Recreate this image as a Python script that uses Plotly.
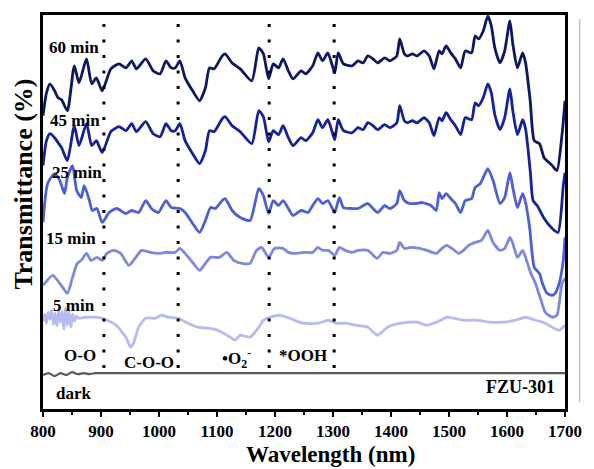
import plotly.graph_objects as go

# In-situ spectra of FZU-301, stacked with offsets (arbitrary transmittance units)
wl_60 = [800, 806, 812, 820, 826, 832, 842, 854, 862, 875, 884, 892, 902, 917, 931, 943, 953, 961,
         977, 990, 1002, 1012, 1021, 1028, 1036, 1045, 1058, 1070, 1080, 1087, 1095, 1109, 1114,
         1126, 1140, 1160, 1172, 1180, 1189, 1197, 1206, 1214, 1223, 1231, 1245, 1253, 1265, 1274,
         1282, 1291, 1299, 1303, 1309, 1318, 1333, 1343, 1352, 1360, 1369, 1377, 1389, 1398, 1410,
         1415, 1423, 1428, 1437, 1445, 1457, 1466, 1474, 1483, 1488, 1495, 1503, 1511, 1520, 1528,
         1539, 1545, 1551, 1559, 1567, 1573, 1579, 1588, 1596, 1605, 1610, 1618, 1627, 1632, 1640,
         1647, 1656, 1664, 1678, 1686, 1695, 1700]
t_60 = [294, 317, 326, 319, 312, 310, 299, 344, 327, 351, 326, 332, 319, 341, 346, 342, 349, 341,
        351, 339, 336, 349, 342, 342, 349, 332, 319, 309, 322, 342, 341, 354, 356,
        347, 341, 329, 362, 356, 331, 346, 342, 351, 339, 331, 339, 336, 344, 357,
        349, 357, 344, 337, 357, 346, 344, 349, 347, 354, 351, 347, 352, 349, 354,
        371, 356, 354, 356, 354, 359, 354, 341, 359, 356, 364, 357, 351, 342, 359,
        357, 374, 371, 379, 394, 384, 362, 347, 359, 389, 366, 342, 357, 347, 309,
        269, 266, 252, 244, 239, 276, 309]

wl_45 = [800, 806, 812, 820, 826, 832, 842, 854, 862, 875, 884, 892, 902, 917, 931, 943, 953, 961,
         977, 990, 1002, 1012, 1021, 1028, 1036, 1045, 1058, 1070, 1080, 1087, 1095, 1109, 1114,
         1126, 1140, 1160, 1172, 1180, 1189, 1197, 1206, 1214, 1223, 1231, 1245, 1253, 1265, 1274,
         1282, 1291, 1299, 1303, 1309, 1318, 1333, 1343, 1352, 1360, 1369, 1377, 1389, 1398, 1410,
         1415, 1423, 1428, 1437, 1445, 1457, 1466, 1474, 1483, 1488, 1495, 1503, 1511, 1520, 1528,
         1539, 1545, 1551, 1559, 1567, 1573, 1579, 1588, 1596, 1605, 1610, 1618, 1627, 1632, 1640,
         1645, 1652, 1664, 1678, 1688, 1697, 1700]
t_45 = [244, 269, 276, 272, 267, 262, 249, 284, 264, 286, 264, 269, 257, 278, 283, 279, 286, 278,
        288, 276, 273, 286, 279, 279, 286, 269, 256, 246, 259, 279, 278, 291, 293,
        284, 278, 266, 299, 293, 268, 279, 275, 284, 272, 264, 272, 269, 277, 290,
        282, 290, 277, 270, 290, 279, 277, 282, 280, 287, 284, 280, 285, 282, 287,
        304, 289, 287, 289, 287, 292, 287, 274, 292, 289, 297, 290, 284, 275, 292,
        290, 307, 304, 312, 326, 317, 295, 280, 292, 321, 299, 275, 290, 281, 239,
        209, 204, 191, 181, 177, 224, 237]

wl_25 = [800, 808, 820, 829, 837, 842, 851, 858, 866, 871, 880, 885, 893, 902, 914, 927, 943, 953,
         965, 977, 987, 999, 1012, 1021, 1036, 1045, 1058, 1070, 1080, 1089, 1097, 1109, 1114, 1126,
         1140, 1157, 1172, 1180, 1189, 1197, 1206, 1214, 1223, 1231, 1245, 1257, 1265, 1274, 1282,
         1291, 1299, 1303, 1311, 1318, 1333, 1343, 1360, 1369, 1377, 1389, 1398, 1410, 1415, 1423,
         1432, 1443, 1454, 1469, 1478, 1483, 1488, 1495, 1503, 1511, 1520, 1528, 1539, 1545, 1554,
         1559, 1567, 1576, 1588, 1596, 1605, 1610, 1618, 1627, 1632, 1639, 1647, 1656, 1661, 1669,
         1678, 1683, 1690, 1697, 1700]
t_25 = [187, 226, 236, 229, 216, 232, 244, 219, 212, 224, 209, 199, 201, 187, 197, 201, 196, 199,
        197, 209, 201, 197, 209, 202, 201, 197, 186, 177, 189, 202, 201, 209, 211, 199,
        192, 189, 221, 214, 196, 209, 204, 209, 201, 194, 199, 197, 204, 211, 206,
        209, 201, 197, 212, 202, 201, 201, 206, 201, 197, 204, 201, 206, 219, 209,
        206, 206, 207, 204, 199, 217, 211, 216, 211, 206, 197, 209, 211, 222, 226,
        232, 241, 229, 206, 212, 237, 222, 202, 216, 207, 182, 142, 136, 126, 116,
        114, 116, 126, 149, 172]

wl_15 = [800, 817, 825, 834, 842, 851, 859, 866, 875, 883, 893, 902, 910, 922, 934, 948, 960, 970,
         985, 999, 1012, 1028, 1036, 1045, 1058, 1070, 1080, 1089, 1104, 1117, 1129, 1143, 1157,
         1168, 1177, 1189, 1199, 1214, 1223, 1233, 1250, 1265, 1274, 1282, 1292, 1303, 1311, 1321,
         1333, 1343, 1360, 1376, 1386, 1398, 1410, 1415, 1423, 1435, 1449, 1462, 1478, 1488, 1496,
         1505, 1517, 1525, 1534, 1545, 1556, 1567, 1576, 1588, 1596, 1605, 1610, 1618, 1627, 1632,
         1641, 1649, 1657, 1666, 1678, 1686, 1695, 1700]
t_15 = [124, 134, 129, 122, 116, 132, 146, 149, 156, 149, 152, 149, 156, 159, 156, 144, 152, 159,
        157, 156, 157, 157, 161, 156, 147, 139, 146, 152, 152, 157, 149, 146, 146,
        159, 162, 152, 161, 161, 157, 156, 157, 157, 162, 159, 159, 154, 162, 159,
        157, 159, 159, 151, 157, 156, 159, 167, 161, 162, 161, 159, 156, 161, 164,
        161, 156, 159, 164, 167, 169, 179, 167, 159, 161, 172, 166, 152, 159, 152,
        136, 126, 112, 97, 92, 94, 126, 131]

wl_5 = [800, 803, 806, 809, 812, 815, 818, 821, 824, 827, 830, 833, 836, 839, 842, 845, 848, 851,
        854, 857, 862, 875, 902, 926, 943, 951, 956, 965, 977, 994, 1004, 1016, 1033, 1050, 1067,
        1084, 1101, 1123, 1131, 1140, 1157, 1172, 1180, 1191, 1208, 1225, 1248, 1275, 1292, 1304,
        1321, 1338, 1360, 1377, 1394, 1418, 1445, 1462, 1486, 1496, 1508, 1525, 1547, 1571, 1593,
        1615, 1632, 1649, 1666, 1681, 1690, 1700]
t_5 = [88, 95, 86, 97, 90, 99, 85, 96, 83, 100, 87, 98, 80, 101, 84, 97, 82, 95,
       88, 93, 91, 92, 91, 84, 72, 62, 66, 82, 91, 91, 94, 92, 91, 86, 82,
       81, 79, 72, 69, 74, 72, 82, 89, 92, 94, 91, 86, 86, 89, 86,
       86, 84, 82, 74, 82, 86, 87, 84, 89, 92, 91, 89, 89, 87, 87,
       89, 92, 89, 86, 81, 79, 84]

wl_dark = [800, 810, 820, 830, 840, 850, 860, 870, 880, 890, 900, 1000, 1100, 1200, 1300, 1400,
           1500, 1600, 1700]
t_dark = [34, 36, 33, 36, 34, 37, 35, 36, 35, 36, 36, 36, 36, 36, 36, 36, 36, 36, 36]

# Assigned band positions (nm) and their labels
band_pos = [905, 1033, 1190, 1302]
band_names = ["O-O", "C-O-O", "\u2022O<sub>2</sub><sup>-</sup>", "*OOH"]
band_label_x = [863, 982, 1134, 1248]
band_label_y = [54, 47, 51, 54]

time_labels = ["60 min", "45 min", "25 min", "15 min", "5 min"]
time_label_x = [853, 855, 859, 848, 853]
time_label_y = [362, 289, 237, 171, 104]

x_ticks = [800, 900, 1000, 1100, 1200, 1300, 1400, 1500, 1600, 1700]

SERIF = "Liberation Serif"

series = [
    (wl_dark, t_dark, "#5a5a5a", 2.2, "dark"),
    (wl_5, t_5, "#b6bcef", 2.8, "5 min"),
    (wl_15, t_15, "#7d88e0", 2.8, "15 min"),
    (wl_25, t_25, "#4c5ed8", 2.8, "25 min"),
    (wl_45, t_45, "#14219a", 2.8, "45 min"),
    (wl_60, t_60, "#0e1765", 2.8, "60 min"),
]

fig = go.Figure()
for xs, ys, color, w, name in series:
    fig.add_trace(go.Scatter(x=xs, y=ys, mode="lines", name=name,
                             line=dict(color=color, width=w, shape="spline", smoothing=0.6)))

# dotted guides at band positions
for xb in band_pos:
    fig.add_trace(go.Scatter(x=[xb, xb], y=[41, 391], mode="lines", showlegend=False,
                             line=dict(color="black", width=3, dash="3px,12.5px")))

annotations = []
for txt, xa, ya in zip(time_labels, time_label_x, time_label_y):
    annotations.append(dict(x=xa, y=ya, text="<b>%s</b>" % txt, showarrow=False,
                            font=dict(family=SERIF, size=17, color="black")))
for txt, xa, ya in zip(band_names, band_label_x, band_label_y):
    annotations.append(dict(x=xa, y=ya, text="<b>%s</b>" % txt, showarrow=False,
                            font=dict(family=SERIF, size=17, color="black")))
annotations.append(dict(x=853, y=16, text="<b>dark</b>", showarrow=False,
                        font=dict(family=SERIF, size=17, color="black")))
annotations.append(dict(x=1623, y=22, text="<b>FZU-301</b>", showarrow=False,
                        font=dict(family=SERIF, size=18, color="black")))
# axis titles
annotations.append(dict(xref="paper", yref="paper", x=0.55, y=-0.116,
                        xanchor="center", yanchor="middle",
                        text="<b>Wavelength (nm)</b>", showarrow=False,
                        font=dict(family=SERIF, size=23, color="black")))
annotations.append(dict(xref="paper", yref="paper", x=-0.038, y=0.57, textangle=-90,
                        xanchor="center", yanchor="middle",
                        text="<b>Transmittance (%)</b>", showarrow=False,
                        font=dict(family=SERIF, size=26, color="black")))

fig.update_layout(
    width=594, height=469,
    margin=dict(l=43, r=21, t=14, b=60),
    plot_bgcolor="white", paper_bgcolor="white",
    showlegend=False,
    annotations=annotations,
    shapes=[dict(type="line", xref="paper", yref="paper", x0=1.028, x1=1.028, y0=0.018, y1=0.99,
                 line=dict(color="#c4c4c4", width=1.5))],
)
fig.update_xaxes(
    range=[800, 1700], tickvals=x_ticks, ticktext=["<b>%d</b>" % t for t in x_ticks],
    ticks="outside", ticklen=5, tickwidth=2, tickcolor="black",
    minor=dict(dtick=50, tick0=800, ticks="outside", ticklen=3, tickwidth=1.5, tickcolor="black"),
    showline=True, linecolor="black", linewidth=2.5, mirror=True,
    showgrid=False, zeroline=False,
    tickfont=dict(family=SERIF, size=17, color="black"),
)
fig.update_yaxes(
    range=[0, 395], showticklabels=False, ticks="",
    showline=True, linecolor="black", linewidth=2.5, mirror=True,
    showgrid=False, zeroline=False,
)

fig.write_html("out.html")
